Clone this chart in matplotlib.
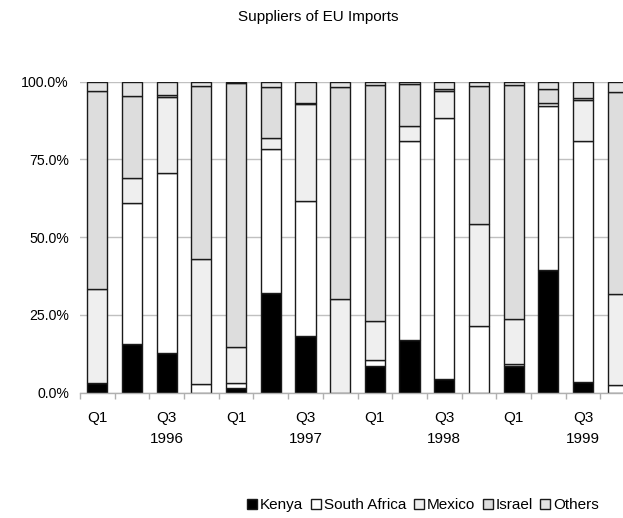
import numpy as np
import matplotlib
matplotlib.use("Agg")
import matplotlib.pyplot as plt
from matplotlib.ticker import FuncFormatter, FixedLocator

plt.rcParams['font.family'] = ['Liberation Sans', 'DejaVu Sans']

# Quarterly shares (%) of EU imports by supplier, Q1 1996 - Q4 1999
quarters = ["Q1", "Q2", "Q3", "Q4"] * 4
years = ["1996", "1997", "1998", "1999"]
kenya = [3.0, 15.8, 12.9, 0.0, 1.5, 32.1, 18.2, 0.0, 8.5, 16.8, 4.4, 0.0, 8.5, 39.4, 3.4, 0.0]
south_africa = [0.0, 45.3, 57.6, 2.7, 1.6, 46.2, 43.4, 0.0, 1.9, 64.1, 83.8, 21.6, 0.8, 52.8, 77.5, 2.6]
mexico = [30.4, 8.0, 24.7, 40.2, 11.6, 3.5, 31.2, 30.0, 12.8, 4.8, 8.8, 32.6, 14.4, 0.8, 13.2, 29.1]
israel = [63.6, 26.3, 0.4, 55.8, 85.0, 16.4, 0.5, 68.2, 75.8, 13.5, 0.5, 44.4, 75.3, 4.5, 0.5, 65.1]
others = [3.0, 4.6, 4.4, 1.3, 0.3, 1.8, 6.7, 1.8, 1.0, 0.8, 2.5, 1.4, 1.0, 2.5, 5.4, 3.2]

series = [
    ("Kenya", kenya, "#000000"),
    ("South Africa", south_africa, "#ffffff"),
    ("Mexico", mexico, "#efefef"),
    ("Israel", israel, "#dddddd"),
    ("Others", others, "#e4e4e4"),
]

W, H = 623, 518
fig = plt.figure(figsize=(W / 100, H / 100), dpi=100)
ax = fig.add_axes([80 / W, 1 - 392.7 / H, 555 / W, 311.0 / H])

x = np.arange(len(quarters))
totals = np.sum([s[1] for s in series], axis=0)
bottom = np.zeros(len(x))
handles = []
for name, vals, color in series:
    frac = np.array(vals) / totals
    b = ax.bar(x, frac, width=0.58, bottom=bottom, color=color,
               edgecolor="#1a1a1a", linewidth=1.0, zorder=3, label=name)
    handles.append(b)
    bottom += frac

ax.set_xlim(-0.5, len(x) - 0.5)
ax.set_ylim(0, 1)
ax.set_yticks([0, 0.25, 0.5, 0.75, 1.0])
ax.yaxis.set_major_formatter(FuncFormatter(lambda v, p: f"{v * 100:.1f}%"))
ax.yaxis.grid(True, color="#c0c0c0", linewidth=1.0, zorder=0)
ax.tick_params(axis="y", length=0, pad=8, labelsize=10.2)

# quarter labels on every other bar, year under the Q3 label
lbl_pos = [i for i in x if i % 2 == 0]
ax.set_xticks(lbl_pos)
ax.set_xticklabels([quarters[i] for i in lbl_pos], fontsize=11)
ax.tick_params(axis="x", which="major", length=0, pad=13.5)
ax.xaxis.set_minor_locator(FixedLocator(np.arange(-0.5, len(x), 1.0)))
ax.tick_params(axis="x", which="minor", length=4, color="#b0b0b0", width=1.0)
for k, yr in enumerate(years):
    ax.text(4 * k + 2, -0.150, yr, ha="center", va="center", fontsize=11,
            transform=ax.get_xaxis_transform())

for s in ["left", "right", "top"]:
    ax.spines[s].set_visible(False)
ax.spines["bottom"].set_color("#b0b0b0")
ax.spines["bottom"].set_linewidth(1.0)
ax.spines["bottom"].set_zorder(4)

fig.text(318 / W, 1 - 17.5 / H, "Suppliers of EU Imports", ha="center",
         va="center", fontsize=11)

fig.legend(handles=handles, labels=[s[0] for s in series], loc="center",
           bbox_to_anchor=(423 / W, 1 - 505 / H), ncol=5, frameon=False,
           fontsize=11, handlelength=0.65, handleheight=0.65,
           handletextpad=0.2, columnspacing=0.5, borderaxespad=0)

fig.savefig("out.png", dpi=100)
